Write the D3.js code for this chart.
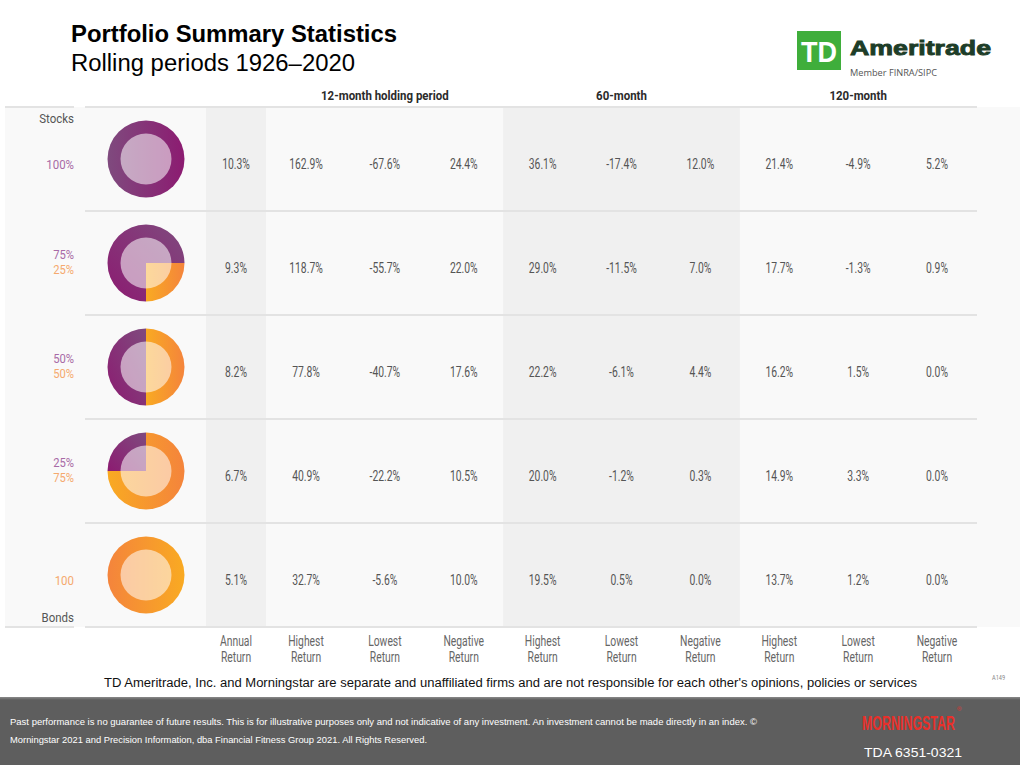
<!DOCTYPE html>
<html>
<head>
<meta charset="utf-8">
<script src="https://cdn.jsdelivr.net/npm/d3@7/dist/d3.min.js"></script>
<style>
  html, body { margin: 0; padding: 0; background: #ffffff; }
  svg { display: block; }
  .cond { font-family: "Roboto", "Liberation Sans", sans-serif; }
</style>
</head>
<body>
<svg id="chart" width="1020" height="765"></svg>
<script>
// ---------------- data ----------------
const allocations = ["100/0", "75/25", "50/50", "25/75", "0/100"];
const stocksPct = [100, 75, 50, 25, 0];
const bondsPct  = [0, 25, 50, 75, 100];

const columnKeys = ["annual", "high12", "low12", "neg12", "high60", "low60", "neg60", "high120", "low120", "neg120"];
const columnLabels = [
  ["Annual", "Return"], ["Highest", "Return"], ["Lowest", "Return"], ["Negative", "Return"],
  ["Highest", "Return"], ["Lowest", "Return"], ["Negative", "Return"],
  ["Highest", "Return"], ["Lowest", "Return"], ["Negative", "Return"]
];
const groupLabels = ["12-month holding period", "60-month", "120-month"];
const groupColumns = [["high12", "neg12"], ["high60", "neg60"], ["high120", "neg120"]];

const annualReturn = [10.3, 9.3, 8.2, 6.7, 5.1];
const high12  = [162.9, 118.7, 77.8, 40.9, 32.7];
const low12   = [-67.6, -55.7, -40.7, -22.2, -5.6];
const neg12   = [24.4, 22.0, 17.6, 10.5, 10.0];
const high60  = [36.1, 29.0, 22.2, 20.0, 19.5];
const low60   = [-17.4, -11.5, -6.1, -1.2, 0.5];
const neg60   = [12.0, 7.0, 4.4, 0.3, 0.0];
const high120 = [21.4, 17.7, 16.2, 14.9, 13.7];
const low120  = [-4.9, -1.3, 1.5, 3.3, 1.2];
const neg120  = [5.2, 0.9, 0.0, 0.0, 0.0];
const seriesValues = [annualReturn, high12, low12, neg12, high60, low60, neg60, high120, low120, neg120];

const titleText = "Portfolio Summary Statistics";
const subtitleText = "Rolling periods 1926\u20132020";
const disclaimerText = "TD Ameritrade, Inc. and Morningstar are separate and unaffiliated firms and are not responsible for each other's opinions, policies or services";
const footerLines = [
  "Past performance is no guarantee of future results. This is for illustrative purposes only and not indicative of any investment. An investment cannot be made directly in an index. \u00a9",
  "Morningstar 2021 and Precision Information, dba Financial Fitness Group 2021. All Rights Reserved."
];

// ---------------- layout ----------------
const svg = d3.select("#chart");
const W = 1020, H = 765;
const tableTop = 107, tableBottom = 627;

const y = d3.scaleBand().domain(allocations).range([tableTop, tableBottom]).paddingInner(0);
const colIndex = d3.scaleOrdinal().domain(columnKeys).range(d3.range(columnKeys.length));
const xIdx = d3.scaleLinear().domain([0, 1, 9]).range([236, 306, 937]);
const x = k => xIdx(colIndex(k));

const fmt = v => v.toFixed(1) + "%";

// condensed text helper (horizontal squeeze)
function ctext(sel, px, py, sx, size, fill, anchor, str, weight) {
  return sel.append("text").attr("class", "cond")
    .attr("transform", `translate(${px},${py}) scale(${sx},1)`)
    .attr("text-anchor", anchor).attr("font-size", size).attr("fill", fill)
    .attr("font-weight", weight || "normal")
    .text(str);
}

// gradients
const defs = svg.append("defs");
function lin(id, stops, x1 = "0%", y1 = "0%", x2 = "100%", y2 = "0%") {
  const g = defs.append("linearGradient").attr("id", id)
    .attr("x1", x1).attr("y1", y1).attr("x2", x2).attr("y2", y2);
  stops.forEach(s => g.append("stop").attr("offset", s[0]).attr("stop-color", s[1]));
}
lin("purpleGrad", [["0%", "#7f4a7e"], ["100%", "#8c1b71"]]);
lin("purpleGradB", [["0%", "#8c1b71"], ["100%", "#7f4a7e"]], "0%", "100%", "100%", "0%");
lin("orangeGrad", [["0%", "#f9aa22"], ["100%", "#f4843c"]]);
lin("orangeGradB", [["0%", "#f4843c"], ["100%", "#f9aa22"]]);
lin("footGrad", [["0%", "#8a8a8a"], ["100%", "#5e5e5e"]], "0%", "0%", "0%", "100%");

// ---------------- table background ----------------
svg.append("rect").attr("x", 5).attr("y", tableTop).attr("width", W - 5).attr("height", tableBottom - tableTop)
  .attr("fill", "#f9f9f9");

const annualHalf = 30;
svg.append("rect")
  .attr("x", x("annual") - annualHalf).attr("y", tableTop)
  .attr("width", annualHalf * 2).attr("height", tableBottom - tableTop)
  .attr("fill", "#f0f0f0");
const band60L = (x("neg12") + x("high60")) / 2;
const band60R = (x("neg60") + x("high120")) / 2;
svg.append("rect")
  .attr("x", band60L).attr("y", tableTop)
  .attr("width", band60R - band60L).attr("height", tableBottom - tableTop)
  .attr("fill", "#f0f0f0");

const lineColor = "#e3e3e3";
const tableRight = 977;
[tableTop, tableBottom].forEach(yy => {
  svg.append("line").attr("x1", 5).attr("x2", 74).attr("y1", yy).attr("y2", yy)
    .attr("stroke", lineColor).attr("stroke-width", 2);
  svg.append("line").attr("x1", 85).attr("x2", tableRight).attr("y1", yy).attr("y2", yy)
    .attr("stroke", lineColor).attr("stroke-width", 2);
});
svg.selectAll("line.rowsep").data(allocations.slice(1)).join("line")
  .attr("class", "rowsep")
  .attr("x1", 85).attr("x2", tableRight)
  .attr("y1", d => y(d)).attr("y2", d => y(d))
  .attr("stroke", lineColor).attr("stroke-width", 2);

// ---------------- group headers ----------------
groupLabels.forEach((g, i) => {
  ctext(svg, (x(groupColumns[i][0]) + x(groupColumns[i][1])) / 2, 100, 0.85, 13.5, "#2b2b2b", "middle", g, "bold");
});

// ---------------- values ----------------
columnKeys.forEach((k, ci) => allocations.forEach((a, ri) => {
  ctext(svg, x(k), y(a) + y.bandwidth() / 2 + 10, 0.74, 14, "#555555", "middle", fmt(seriesValues[ci][ri]));
}));

// ---------------- column labels ----------------
columnKeys.forEach((k, i) => {
  columnLabels[i].forEach((t, j) => {
    ctext(svg, x(k), 646 + j * 16, 0.74, 14, "#666666", "middle", t);
  });
});

// ---------------- allocation labels ----------------
const purpleLab = "#a86aa6", orangeLab = "#f5a96e";
ctext(svg, 74, 123, 0.85, 13.5, "#555", "end", "Stocks");
ctext(svg, 74, 622, 0.85, 13.5, "#555", "end", "Bonds");

allocations.forEach((a, i) => {
  const cy = y(a) + y.bandwidth() / 2;
  const s = stocksPct[i], b = bondsPct[i];
  if (s > 0 && b > 0) {
    ctext(svg, 74, cy - 4, 0.9, 12.5, purpleLab, "end", s + "%");
    ctext(svg, 74, cy + 11, 0.9, 12.5, orangeLab, "end", b + "%");
  } else if (s > 0) {
    ctext(svg, 74, cy + 10, 0.85, 13.5, purpleLab, "end", s + "%");
  } else {
    ctext(svg, 74, cy + 10, 0.85, 13.5, orangeLab, "end", String(b));
  }
});

// ---------------- donuts ----------------
const donutX = 146, rOuter = 38.5, rInner = 25.5;
const rotations = [0, 90, 0, 0, 0]; // degrees, start of bond slice
const arc = d3.arc().innerRadius(0).outerRadius(rOuter);
allocations.forEach((a, i) => {
  const cy = y(a) + y.bandwidth() / 2;
  const g = svg.append("g").attr("transform", `translate(${donutX},${cy})`);
  const start = rotations[i] * Math.PI / 180;
  const pie = d3.pie().sort(null).value(d => d.v).startAngle(start).endAngle(start + 2 * Math.PI);
  const slices = pie([{ n: "bonds", v: bondsPct[i] }, { n: "stocks", v: stocksPct[i] }]).filter(d => d.data.v > 0);
  g.selectAll("path").data(slices).join("path")
    .attr("d", arc)
    .attr("fill", d => d.data.n === "stocks"
      ? (i === 0 ? "url(#purpleGrad)" : "url(#purpleGradB)")
      : (i === 4 ? "url(#orangeGradB)" : "url(#orangeGrad)"));
  g.append("circle").attr("r", rInner).attr("fill", "#ffffff").attr("fill-opacity", 0.55);
});

// ---------------- title ----------------
svg.append("text").attr("x", 71).attr("y", 42)
  .attr("font-family", "Liberation Sans, Arial, sans-serif").attr("font-weight", "bold")
  .attr("font-size", 23.5).attr("fill", "#000")
  .attr("textLength", 326).attr("lengthAdjust", "spacingAndGlyphs").text(titleText);
svg.append("text").attr("x", 71).attr("y", 71)
  .attr("font-family", "Liberation Sans, Arial, sans-serif")
  .attr("font-size", 23.5).attr("fill", "#000")
  .attr("textLength", 284).attr("lengthAdjust", "spacingAndGlyphs").text(subtitleText);

// ---------------- TD logo ----------------
svg.append("rect").attr("x", 797).attr("y", 31).attr("width", 44).attr("height", 39).attr("fill", "#3fae3b");
svg.append("text").attr("x", 801).attr("y", 62)
  .attr("font-family", "Liberation Sans, sans-serif").attr("font-weight", "bold")
  .attr("font-size", 29).attr("fill", "#ffffff")
  .attr("textLength", 36).attr("lengthAdjust", "spacingAndGlyphs").text("TD");
svg.append("text").attr("x", 850).attr("y", 55)
  .attr("font-family", "Liberation Sans, Arial, sans-serif").attr("font-weight", "900")
  .attr("font-size", 21).attr("fill", "#1d3d28").attr("stroke", "#1d3d28").attr("stroke-width", 0.9)
  .attr("textLength", 141).attr("lengthAdjust", "spacingAndGlyphs").text("Ameritrade");
svg.append("text").attr("x", 850).attr("y", 76)
  .attr("font-family", "Open Sans, Liberation Sans, sans-serif")
  .attr("font-size", 9).attr("fill", "#555")
  .attr("textLength", 87).attr("lengthAdjust", "spacingAndGlyphs").text("Member FINRA/SIPC");

// ---------------- disclaimer ----------------
svg.append("text").attr("x", 104).attr("y", 687)
  .attr("font-family", "Liberation Sans, sans-serif")
  .attr("font-size", 12).attr("fill", "#111")
  .attr("textLength", 813).attr("lengthAdjust", "spacingAndGlyphs").text(disclaimerText);
ctext(svg, 992, 680, 0.8, 7, "#888", "start", "A149");

// ---------------- footer ----------------
svg.append("rect").attr("x", 0).attr("y", 697).attr("width", W).attr("height", H - 697).attr("fill", "#5e5e5e");
svg.append("rect").attr("x", 0).attr("y", 697).attr("width", W).attr("height", 3).attr("fill", "url(#footGrad)");
svg.selectAll("text.foot").data(footerLines).join("text")
  .attr("class", "foot")
  .attr("x", 10).attr("y", (d, i) => 725 + i * 18)
  .attr("font-family", "Liberation Sans, sans-serif")
  .attr("font-size", 9.5).attr("fill", "#ffffff")
  .attr("textLength", (d, i) => i === 0 ? 747 : 417).attr("lengthAdjust", "spacingAndGlyphs")
  .text(d => d);
svg.append("text").attr("x", 862).attr("y", 730)
  .attr("font-family", "Liberation Sans, sans-serif").attr("font-weight", "bold")
  .attr("font-size", 20).attr("fill", "#e8302a")
  .attr("textLength", 93).attr("lengthAdjust", "spacingAndGlyphs").text("MORNINGSTAR");
svg.append("text").attr("x", 957).attr("y", 711)
  .attr("font-family", "Liberation Sans, sans-serif").attr("font-size", 6).attr("fill", "#e8302a").text("\u00ae");
svg.append("text").attr("x", 864).attr("y", 757)
  .attr("font-family", "Liberation Sans, Arial, sans-serif")
  .attr("font-size", 13).attr("fill", "#ffffff")
  .attr("textLength", 98).attr("lengthAdjust", "spacingAndGlyphs").text("TDA 6351-0321");
</script>
</body>
</html>
